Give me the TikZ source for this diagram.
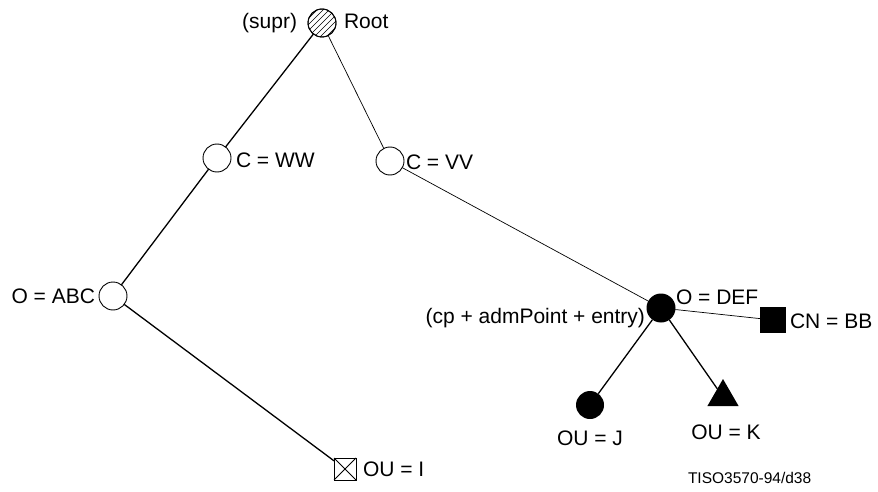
\documentclass[tikz,border=0pt]{standalone}
\usepackage{fontspec}
\setmainfont{Liberation Sans}
\usetikzlibrary{shapes.geometric,calc}
\begin{document}
\begin{tikzpicture}[x=1pt,y=-1pt,
  every node/.style={inner sep=0pt, outer sep=0pt},
  lbl/.style={font=\fontsize{21}{25}\selectfont},
  opencirc/.style={circle, draw, line width=0.9pt, minimum size=27pt, fill=white},
  fullcirc/.style={circle, fill=black, minimum size=28pt},
  thickline/.style={line width=1.3pt},
  thinline/.style={line width=0.7pt}]
\useasboundingbox (0,0) rectangle (878,492);
% nodes
\node[opencirc, minimum size=28pt] (root) at (322,23) {};
\begin{scope}
  \clip (root.center) circle (14pt);
  \foreach \k in {-24,-18,...,24} {
    \draw[line width=0.7pt] ($(root.center)+(\k-20,20)$) -- ($(root.center)+(\k+20,-20)$);
  }
\end{scope}
\node[circle, draw, line width=0.9pt, minimum size=28pt] (rootb) at (322,23) {};
\node[opencirc, minimum size=28pt] (cww) at (217,158) {};
\node[opencirc, minimum size=28pt] (cvv) at (390,161) {};
\node[opencirc, minimum size=28pt] (oabc) at (113,296) {};
\node[fullcirc, minimum size=29pt] (odef) at (661,308) {};
\node[rectangle, fill=black, minimum size=26pt] (cnbb) at (773,320) {};
\node[fullcirc] (ouj) at (590,405) {};
\node[regular polygon, regular polygon sides=3, fill=black, minimum size=36pt] (ouk) at (723,397) {};
\node[rectangle, draw, line width=0.8pt, minimum size=22pt] (oui) at (345,469) {};
\draw[line width=0.8pt] (oui.north west) -- (oui.south east) (oui.north east) -- (oui.south west);
% connectors
\draw[thickline] (root) -- (cww);
\draw[thinline] (root) -- (cvv);
\draw[thickline] (cww) -- (oabc);
\draw[thickline] (oabc) -- (oui);
\draw[thinline] (cvv) -- (odef);
\draw[thinline] (odef) -- (cnbb);
\draw[thickline] (odef) -- (ouj);
\draw[thickline] (odef) -- (ouk);
% labels
\node[lbl, anchor=west] (lroot) at (344,21) {Root};
\node[lbl, anchor=east] (lsupr) at (297,23) {(supr)};
\node[lbl, anchor=west] (lcww) at (236,160) {C = WW};
\node[lbl, anchor=west] (lcvv) at (406,162) {C = VV};
\node[lbl, anchor=east] (loabc) at (95,296) {O = ABC};
\node[lbl, anchor=west] (lodef) at (676,297) {O = DEF};
\node[lbl, anchor=east] (lcp) at (645,318) {(cp + admPoint + entry)};
\node[lbl, anchor=west] (lcnbb) at (790,321) {CN = BB};
\node[lbl] (louj) at (590,438) {OU = J};
\node[lbl] (louk) at (726,432) {OU = K};
\node[lbl, anchor=west] (loui) at (363,469) {OU = I};
\node[font=\fontsize{15.5}{18}\selectfont, anchor=west] (ltiso) at (688,478) {TISO3570-94/d38};
\end{tikzpicture}
\end{document}
